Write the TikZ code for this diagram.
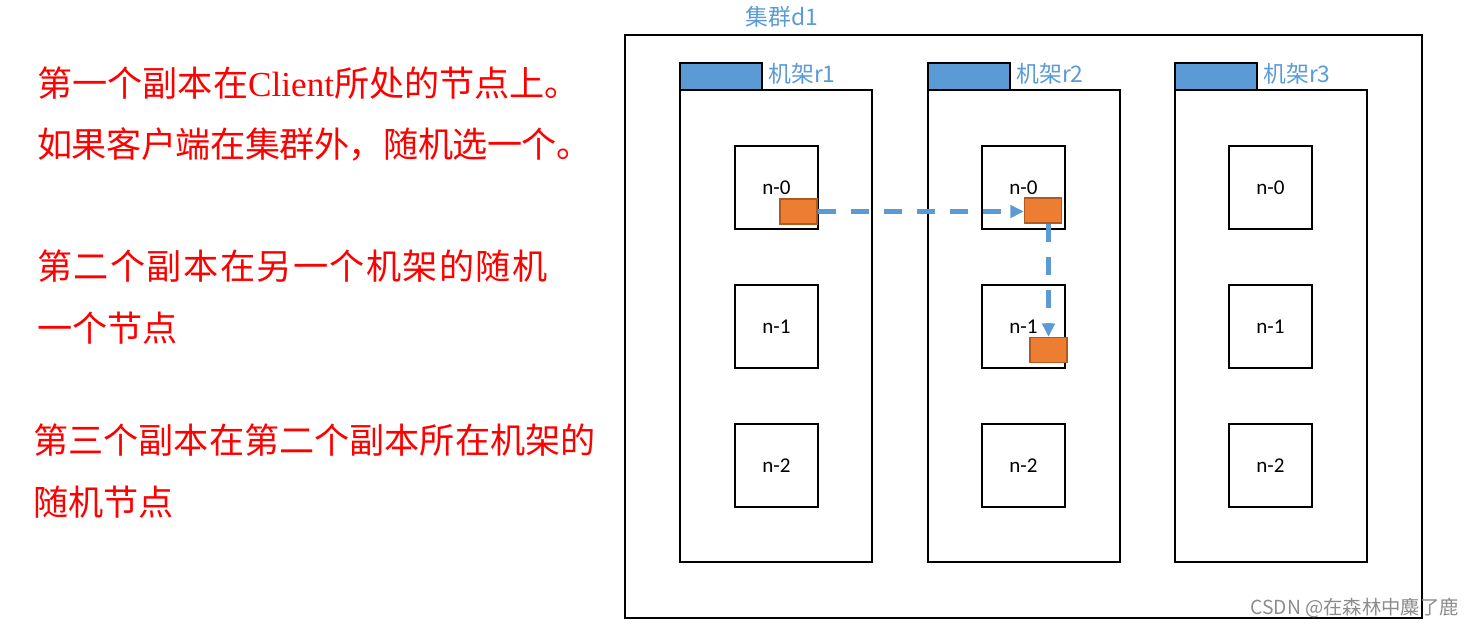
\documentclass[tikz,border=0pt]{standalone}
\usepackage{fontspec}
\setmainfont{Carlito}
\newfontfamily\cjk{Noto Sans CJK SC}
\newfontfamily\cjkwide[LetterSpace=4]{Noto Sans CJK SC}
\newfontfamily\cjktight[LetterSpace=-1.5]{Noto Sans CJK SC}
\newfontfamily\latinserif{Liberation Serif}
\usepackage{xcolor}
\usepackage{tikz}
\usetikzlibrary{calc, arrows.meta, positioning}

\definecolor{rackblue}{HTML}{5B9BD5}
\definecolor{blkorange}{HTML}{ED7D31}
\definecolor{blkedge}{HTML}{AE5A21}

\tikzset{
    host/.style={draw, line width=0.9pt, minimum width=1.66cm, minimum height=1.66cm,
        inner sep=0pt, font=\fontsize{12pt}{14pt}\selectfont},
    replica/.style={draw=blkedge, fill=blkorange, line width=0.8pt,
        minimum width=0.74cm, minimum height=0.5cm, inner sep=0pt},
    flow/.style={rackblue, line width=2.3pt, dash pattern=on 0.37cm off 0.29cm,
        -{Triangle[length=0.27cm, width=0.25cm]}},
    note/.style={red, anchor=west, inner sep=0pt, font=\cjk\fontsize{20pt}{24pt}\selectfont},
    tag/.style={rackblue, anchor=west, inner sep=0pt, font=\cjk\fontsize{13pt}{15pt}\selectfont}
}

\begin{document}
\begin{tikzpicture}[x=0.02cm, y=-0.02cm]
    \useasboundingbox (0,0) rectangle (1477,627);

    % 1. Cụm máy (cluster) và ba giá máy
    \draw[line width=0.9pt] (625,35) rectangle (1422,618);
    \node[tag] (cname) at (745,17) {集群d1};
    \foreach \r/\x in {1/680, 2/928, 3/1175} {
        \draw[line width=0.9pt] (\x,90) rectangle ++(192,472);
        \draw[fill=rackblue, line width=0.6pt] (\x,63) rectangle ++(82,27);
        \node[tag] (rname\r) at (\x+88,74) {机架r\r};
    }

    % 2. Các nút n-0, n-1, n-2 trong mỗi giá
    \foreach \r/\x in {1/776.5, 2/1023.5, 3/1270.5}
        \foreach \n/\y in {0/187.5, 1/326.5, 2/465.5}
            \node[host] (h\r\n) at (\x,\y) {n-\n};

    % 3. Ba bản sao và đường đi
    \node[replica] (rep1) at (798.5,211.5) {};
    \node[replica] (rep2) at (1043,210.5) {};
    \node[replica] (rep3) at (1048.5,350) {};
    \draw[flow] (rep1.east) -- (rep1.east -| rep2.west);
    \draw[flow] (rep3.north |- rep2.south) -- (rep3.north);

    % 4. Chú thích bên trái
    \node[note] (t1) at (37,83) {第一个副本在{\latinserif Client}所处的节点上。};
    \node[note, font=\cjktight\fontsize{20pt}{24pt}\selectfont] (t2) at (37,144) {如果客户端在集群外，随机选一个。};
    \node[note, font=\cjkwide\fontsize{20pt}{24pt}\selectfont] (t3) at (37,266) {第二个副本在另一个机架的随机};
    \node[note] (t4) at (37,328) {一个节点};
    \node[note] (t5) at (33,440) {第三个副本在第二个副本所在机架的};
    \node[note] (t6) at (33,502) {随机节点};

    \node[anchor=west, inner sep=0pt, text=black!45, font=\cjk\fontsize{11pt}{13pt}\selectfont]
        (mark) at (1250,608) {CSDN @在森林中麋了鹿};
\end{tikzpicture}
\end{document}
